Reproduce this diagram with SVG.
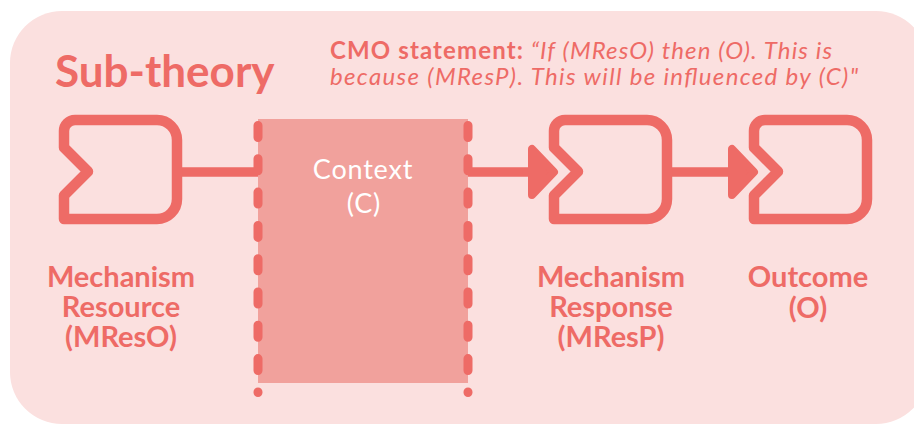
<svg xmlns="http://www.w3.org/2000/svg" xmlns:xlink="http://www.w3.org/1999/xlink" width="914" height="424" viewBox="0 0 914 424">
  <defs>
    <style>
      .bg { fill: #FBE0DF; }
      .node { fill: none; stroke: #EE6B66; stroke-width: 10.5; stroke-linejoin: round; }
      .conn { stroke: #EE6B66; stroke-width: 9.5; fill: none; }
      .head { fill: #EE6B66; stroke: #EE6B66; stroke-width: 8; stroke-linejoin: round; }
      .ctxbox { fill: #F1A19C; }
      .dash { stroke: #EE6B66; stroke-width: 9; stroke-linecap: round; stroke-dasharray: 12 21.3; fill: none; }
      .label { font-family: Lato, "Liberation Sans", sans-serif; font-weight: bold; font-size: 29px; fill: #EE6B66; text-anchor: middle; }
      .title { font-family: Lato, "Liberation Sans", sans-serif; font-weight: bold; font-size: 44px; fill: #EE6B66; }
      .cmo { font-family: Lato, "Liberation Sans", sans-serif; font-size: 24px; fill: #EE6B66; font-style: italic; }
      .cmo .b { font-weight: bold; font-style: normal; }
      .ctxtext { font-family: Lato, "Liberation Sans", sans-serif; font-size: 27px; letter-spacing: 0.8px; fill: #FFFFFF; text-anchor: middle; }
    </style>
    <path id="nodeShape" d="M 64,147.5 L 64,131 A 11,11 0 0 1 75,120 L 157,120 A 20,20 0 0 1 177,140 L 177,199 A 20,20 0 0 1 157,219 L 64,219 L 64,195.5 L 88,171.5 Z"/>
  </defs>

  <rect id="background" class="bg" x="10" y="11" width="918" height="413" rx="52" ry="52"/>

  <g id="title">
    <text class="title" x="55" y="87">Sub-theory</text>
  </g>

  <g id="cmo-statement">
    <text class="cmo" x="330" y="59" textLength="502" lengthAdjust="spacing"><tspan class="b">CMO statement:</tspan> “If (MResO) then (O). This is</text>
    <text class="cmo" x="330" y="85" textLength="528" lengthAdjust="spacing">because (MResP). This will be influenced by (C)"</text>
  </g>

  <g id="context">
    <rect class="ctxbox" x="258" y="119" width="210" height="264"/>
    <line class="dash" x1="258" y1="125.5" x2="258" y2="392.5"/>
    <line class="dash" x1="468" y1="125.5" x2="468" y2="392.5"/>
    <text class="ctxtext" x="363" y="179">Context</text>
    <text class="ctxtext" x="364" y="213">(C)</text>
  </g>

  <g id="connectors">
    <line class="conn" x1="177" y1="172" x2="258" y2="172"/>
    <line class="conn" x1="468" y1="172" x2="534" y2="172"/>
    <polygon class="head" points="532,149 532,195 554,172"/>
    <line class="conn" x1="667" y1="172" x2="734" y2="172"/>
    <polygon class="head" points="732,149 732,195 754,172"/>
  </g>

  <g id="node-mreso">
    <use xlink:href="#nodeShape" class="node"/>
    <text class="label" x="121" y="287">Mechanism<tspan x="121" dy="30">Resource</tspan><tspan x="121" dy="30">(MResO)</tspan></text>
  </g>

  <g id="node-mresp">
    <use xlink:href="#nodeShape" class="node" transform="translate(490,0)"/>
    <text class="label" x="611" y="287">Mechanism<tspan x="611" dy="30">Response</tspan><tspan x="611" dy="30">(MResP)</tspan></text>
  </g>

  <g id="node-outcome">
    <use xlink:href="#nodeShape" class="node" transform="translate(690,0)"/>
    <text class="label" x="808" y="287">Outcome<tspan x="808" dy="31">(O)</tspan></text>
  </g>
</svg>
